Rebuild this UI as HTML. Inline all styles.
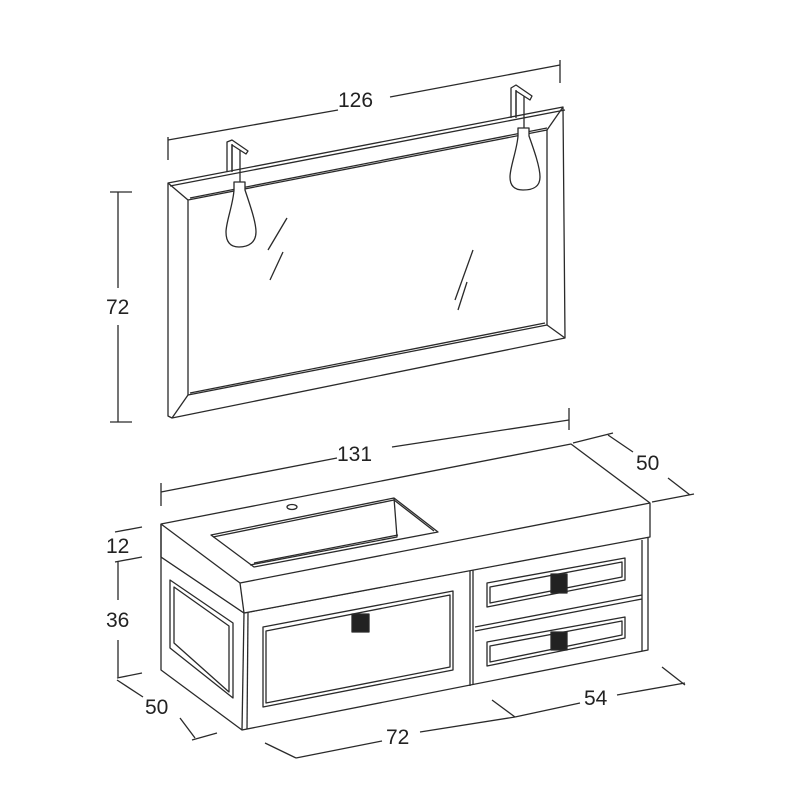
<!DOCTYPE html>
<html><head><meta charset="utf-8"><style>
html,body{margin:0;padding:0;background:#fff;}
svg{display:block}
text{font-family:"Liberation Sans",sans-serif;font-size:21px;fill:#222;}
</style></head><body>
<svg width="800" height="800" viewBox="0 0 800 800" xmlns="http://www.w3.org/2000/svg">
<g fill="none" stroke="#2a2a2a" stroke-width="1.3" stroke-linejoin="round">
<!-- MIRROR dims -->
<line x1="168" y1="137" x2="168" y2="160"/>
<line x1="560" y1="60" x2="560" y2="83"/>
<line x1="168" y1="140" x2="338" y2="110"/>
<line x1="390" y1="97" x2="560" y2="65"/>
<line x1="110" y1="192" x2="132" y2="192"/>
<line x1="110" y1="422" x2="132" y2="422"/>
<line x1="118" y1="192" x2="118" y2="288"/>
<line x1="118" y1="325" x2="118" y2="422"/>
<!-- mirror frame -->
<polygon points="168,183 563,107 565,338 172,418 168,416" fill="#fff"/>
<line x1="170" y1="186" x2="565" y2="110"/>
<polygon points="188,200 547,130 547,325 188,395"/>
<line x1="168" y1="183" x2="188" y2="200"/>
<line x1="563" y1="107" x2="547" y2="130"/>
<line x1="565" y1="338" x2="547" y2="325"/>
<line x1="172" y1="418" x2="188" y2="395"/>
<line x1="190" y1="198" x2="547" y2="128"/>
<line x1="190" y1="393" x2="545" y2="323"/>
<!-- glare -->
<line x1="268" y1="250" x2="287" y2="218"/>
<line x1="270" y1="280" x2="283" y2="252"/>
<line x1="455" y1="300" x2="473" y2="250"/>
<line x1="458" y1="310" x2="467" y2="282"/>
<!-- left lamp -->
<path d="M227,172 L227,142 L232,140 L248,151 L246,154 L232,145 L232,172"/>
<line x1="232" y1="144" x2="232" y2="170"/>
<line x1="240" y1="150" x2="240" y2="182"/>
<path d="M234,182 L245,182 L245,190 C250,205 256,222 256,232 C256,242 249,247 239,247 C229,247 226,240 226,232 C226,222 233,205 234,190 Z" fill="#fff"/>
<!-- right lamp -->
<path d="M511,118 L511,88 L516,85 L532,96 L530,100 L516,91 L516,118"/>
<line x1="516" y1="90" x2="516" y2="116"/>
<line x1="524" y1="96" x2="524" y2="128"/>
<path d="M518,128 L529,128 L529,136 C534,150 540,167 540,177 C540,187 533,190 523,190 C513,190 510,184 510,177 C510,167 517,150 518,136 Z" fill="#fff"/>

<!-- CABINET dims -->
<line x1="161" y1="483" x2="161" y2="506"/>
<line x1="569" y1="408" x2="569" y2="430"/>
<line x1="161" y1="492" x2="337" y2="458"/>
<line x1="392" y1="447" x2="569" y2="420"/>
<line x1="573" y1="443" x2="613" y2="433"/>
<line x1="652" y1="502" x2="694" y2="494"/>
<line x1="608" y1="435" x2="633" y2="452"/>
<line x1="668" y1="478" x2="690" y2="495"/>
<line x1="115" y1="532" x2="142" y2="527"/>
<line x1="115" y1="562" x2="142" y2="557"/>
<line x1="117" y1="678" x2="142" y2="673"/>
<line x1="118" y1="562" x2="118" y2="600"/>
<line x1="118" y1="640" x2="118" y2="677"/>
<line x1="117" y1="680" x2="143" y2="697"/>
<line x1="180" y1="718" x2="195" y2="738"/>
<line x1="192" y1="740" x2="217" y2="733"/>
<line x1="265" y1="743" x2="296" y2="758"/>
<line x1="296" y1="758" x2="382" y2="741"/>
<line x1="420" y1="732" x2="515" y2="717"/>
<line x1="492" y1="700" x2="515" y2="717"/>
<line x1="515" y1="717" x2="580" y2="703"/>
<line x1="617" y1="695" x2="685" y2="683"/>
<line x1="662" y1="667" x2="685" y2="685"/>

<!-- body -->
<polygon points="161,557 244,613 648,537 648,650 242,730 161,670" fill="#fff"/>
<line x1="244" y1="613" x2="242" y2="730"/>
<line x1="248" y1="613" x2="247" y2="729"/>
<line x1="642" y1="540" x2="642" y2="651"/>
<!-- left side panel -->
<polygon points="170,580 233,623 233,698 170,648"/>
<polygon points="174,587 229,626 229,692 174,643"/>
<!-- door -->
<line x1="473" y1="570" x2="473" y2="685"/>
<line x1="470" y1="571" x2="470" y2="686"/>
<polygon points="263,627 453,591 453,670 263,707"/>
<polygon points="266,631 450,595 450,667 266,703"/>
<rect x="352" y="614" width="17" height="18" fill="#222"/>
<!-- drawers -->
<line x1="475" y1="627" x2="642" y2="595"/>
<line x1="475" y1="631" x2="642" y2="599"/>
<polygon points="487,583 625,558 625,580 487,607"/>
<polygon points="490,587 622,562 622,577 490,603"/>
<rect x="551" y="574" width="16" height="19" fill="#222"/>
<polygon points="487,642 625,617 625,638 487,666"/>
<polygon points="490,646 622,621 622,635 490,662"/>
<rect x="551" y="632" width="16" height="18" fill="#222"/>
<!-- top slab -->
<polygon points="161,524 571,444 650,503 650,537 244,613 161,557" fill="#fff"/>
<polyline points="161,524 240,583 650,503"/>
<line x1="240" y1="583" x2="244" y2="613"/>
<line x1="161" y1="524" x2="161" y2="557"/>
<!-- sink -->
<polygon points="211,535 394,498 438,532 254,567"/>
<polyline points="213,537 394,500 434,531"/>
<polyline points="250,565 397,537 394,498"/>
<line x1="254" y1="563" x2="398" y2="535"/>
<ellipse cx="292" cy="507" rx="5" ry="2.5"/>
</g>
<text x="338" y="107">126</text>
<text x="106" y="314">72</text>
<text x="337" y="461">131</text>
<text x="636" y="470">50</text>
<text x="106" y="553">12</text>
<text x="106" y="627">36</text>
<text x="145" y="714">50</text>
<text x="386" y="744">72</text>
<text x="584" y="705">54</text>
</svg>
</body></html>
